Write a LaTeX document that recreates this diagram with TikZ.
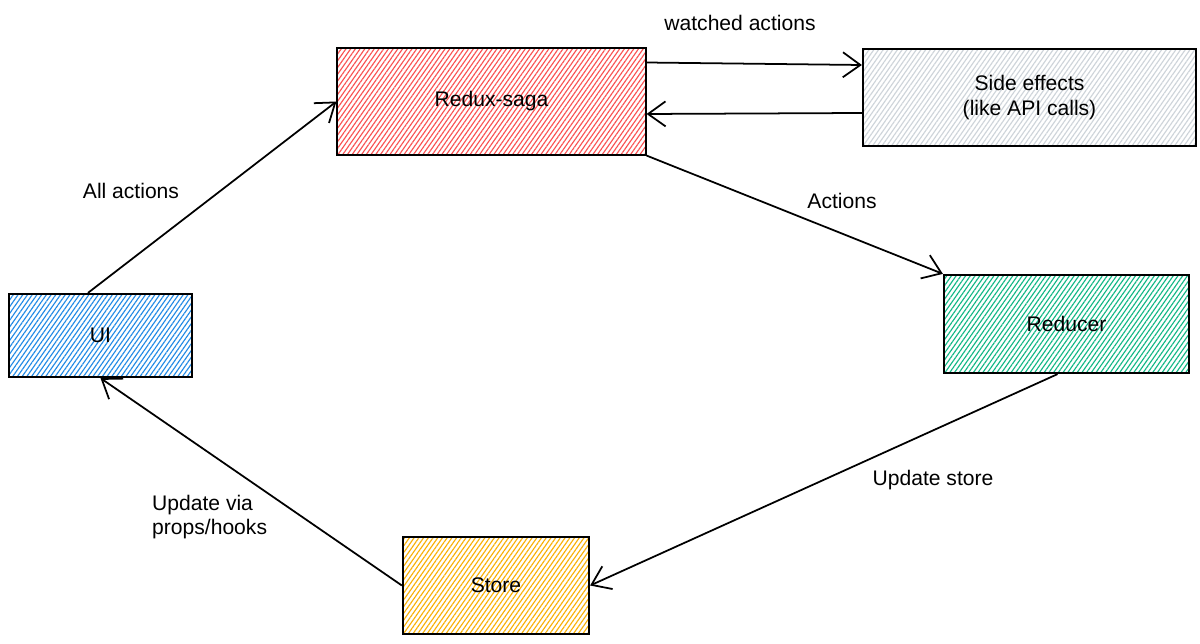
\documentclass[tikz,border=0pt]{standalone}
\usepackage{fontspec}
\setmainfont{Liberation Sans}
\usepackage{tikz}
\usetikzlibrary{arrows.meta, patterns.meta}
\definecolor{sagared}{HTML}{FA5252}
\definecolor{sidegray}{HTML}{CED4DA}
\definecolor{uiblue}{HTML}{228BE6}
\definecolor{reducergreen}{HTML}{12B886}
\definecolor{storeyellow}{HTML}{FAB005}

\begin{document}
\begin{tikzpicture}[x=0.02cm, y=-0.02cm,
  box/.style={draw=black, line width=1.3pt, inner sep=0pt,
    pattern={Lines[angle=55, distance=2.2pt, line width=0.65pt]},
    font=\fontsize{12}{14}\selectfont, align=center},
  flow/.style={line width=1pt, -{Straight Barb[length=3.5mm, width=5mm, line width=1pt]}},
  lbl/.style={font=\fontsize{12}{14}\selectfont, align=left}]
  \fill[white] (0,0) rectangle (1200,644);

  % boxes
  \node[box, pattern color=sagared, minimum width=6.18cm, minimum height=2.14cm] (saga) at (491.5,101.5) {Redux-saga};
  \node[box, pattern color=sidegray, minimum width=6.66cm, minimum height=1.94cm] (side) at (1029.5,97.5) {Side effects\\(like API calls)};
  \node[box, pattern color=uiblue, minimum width=3.66cm, minimum height=1.66cm] (ui) at (100.5,335.5) {UI};
  \node[box, pattern color=reducergreen, minimum width=4.9cm, minimum height=1.96cm] (reducer) at (1066.5,324) {Reducer};
  \node[box, pattern color=storeyellow, minimum width=3.72cm, minimum height=1.94cm] (store) at (496,585.5) {Store};

  % connectors
  \draw[flow] ([xshift=-0.25cm]ui.north) -- (saga.west);
  \draw[flow] ([yshift=0.78cm]saga.east) -- ([yshift=0.65cm]side.west);
  \draw[flow] ([yshift=-0.31cm]side.west) -- ([yshift=-0.25cm]saga.east);
  \draw[flow] (saga.south east) -- (reducer.north west);
  \draw[flow] ([xshift=-0.18cm]reducer.south) -- (store.east);
  \draw[flow] (store.west) -- (ui.south);

  % labels
  \node[lbl] (lblall) at (131,191) {All actions};
  \node[lbl] (lblwatched) at (740,23) {watched actions};
  \node[lbl] (lblactions) at (842,201) {Actions};
  \node[lbl] (lblupdate) at (933,480) {Update store};
  \node[lbl, anchor=west] (lblprops) at (146,517) {Update via\\props/hooks};
\end{tikzpicture}
\end{document}
